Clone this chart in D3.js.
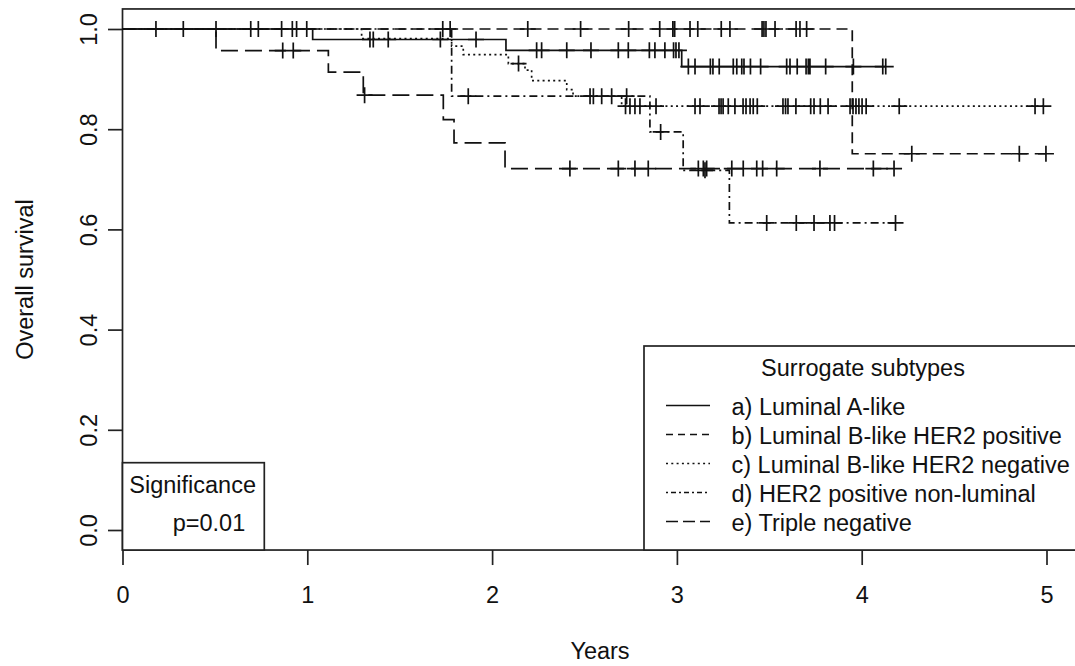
<!DOCTYPE html>
<html><head><meta charset="utf-8">
<script src="https://cdn.jsdelivr.net/npm/d3@7"></script>
<style>
body{margin:0;background:#fff}
svg{display:block}
text{font-family:"Liberation Sans",Arial,sans-serif;fill:#111}
</style>
</head><body>
<svg id="chart" width="1075" height="666"></svg>
<script>
// ---------- data ----------
const groupLabels = ["a) Luminal A-like","b) Luminal B-like HER2 positive","c) Luminal B-like HER2 negative","d) HER2 positive non-luminal","e) Triple negative"];
const xTicks = [0,1,2,3,4,5];
const yTicks = [0,0.2,0.4,0.6,0.8,1.0];
const xLabel = "Years";
const yLabel = "Overall survival";
const legendTitle = "Surrogate subtypes";
const sigTitle = "Significance";
const sigValue = "p=0.01";

// a) Luminal A-like
const aTime = [1.029, 2.075, 3.026];
const aSurv = [0.979, 0.9575, 0.925];
const aCensor = [0.181,0.329,0.506,0.694,0.735,0.861,0.919,0.942,0.997,1.339,1.357,1.438,1.72,1.913,2.241,2.268,2.404,2.535,2.683,2.737,2.851,2.881,2.935,2.982,2.995,3.011,3.062,3.098,3.181,3.195,3.229,3.305,3.324,3.351,3.363,3.398,3.453,3.594,3.612,3.651,3.699,3.711,3.720,3.805,3.955,4.114,4.130];
const aEnd = 4.13;

// b) Luminal B-like HER2 positive
const bTime = [3.949];
const bSurv = [0.751];
const bCensor = [1.733,2.193,2.479,2.739,2.907,2.978,2.988,3.071,3.113,3.240,3.287,3.461,3.471,3.482,3.531,3.645,3.666,3.702,4.271,4.853,4.997];
const bEnd = 4.997;

// c) Luminal B-like HER2 negative
const cTime = [1.294,1.781,1.844,2.088,2.178,2.214,2.404,2.438,2.701];
const cSurv = [0.981,0.966,0.949,0.931,0.918,0.897,0.879,0.866,0.846];
const cCensor = [2.143,2.530,2.548,2.593,2.647,2.722,2.746,2.773,2.800,2.887,3.098,3.125,3.228,3.239,3.250,3.278,3.314,3.358,3.374,3.396,3.413,3.435,3.574,3.588,3.601,3.644,3.724,3.742,3.776,3.818,3.937,3.953,3.969,3.985,4.002,4.024,4.203,4.938,4.983];
const cEnd = 4.983;

// d) HER2 positive non-luminal
const dTime = [1.781,2.854,3.034,3.284];
const dSurv = [0.866,0.7946,0.718,0.613];
const dCensor = [1.773,1.871,2.728,2.912,3.152,3.486,3.646,3.742,3.828,3.853,4.183];
const dEnd = 4.183;

// e) Triple negative
const eTime = [0.506,1.114,1.303,1.736,1.794,2.070];
const eSurv = [0.957,0.914,0.868,0.819,0.7726,0.7215];
const eCensor = [0.867,0.924,1.31,2.421,2.683,2.773,2.845,3.116,3.143,3.161,3.297,3.359,3.432,3.464,3.540,3.774,4.063,4.175];
const eEnd = 4.175;

const groups = [
  {time:aTime, surv:aSurv, censor:aCensor, end:aEnd},
  {time:bTime, surv:bSurv, censor:bCensor, end:bEnd},
  {time:cTime, surv:cSurv, censor:cCensor, end:cEnd},
  {time:dTime, surv:dSurv, censor:dCensor, end:dEnd},
  {time:eTime, surv:eSurv, censor:eCensor, end:eEnd}
];
const curveDash = [null, "11,6", "2,3.3", "2,4,8,4", "17,7"];
const legendDash = [null, "7,5", "2,3.3", "2,3,5,3", "12,5"];

// ---------- drawing ----------
const FS = 23.5;
const LW = 1.7;
const svg = d3.select("#chart");
const x = d3.scaleLinear().domain([0,5]).range([122.5,1046.5]);
const y = d3.scaleLinear().domain([0,1]).range([530,29]);
const plotRight = 1080;

// plot box
svg.append("rect")
  .attr("x", x(0)).attr("y", y(1.04))
  .attr("width", plotRight - x(0)).attr("height", y(-0.04) - y(1.04))
  .attr("fill","none").attr("stroke","#222").attr("stroke-width",LW);

// x axis
const gx = svg.append("g").attr("transform",`translate(0,${y(-0.04)})`)
  .call(d3.axisBottom(x).tickValues(xTicks).tickFormat(d3.format("d")).tickSize(15).tickPadding(21));
gx.select(".domain").remove();
gx.selectAll("line").attr("stroke","#222").attr("stroke-width",LW);
gx.selectAll("text").attr("font-size",FS).attr("fill","#111").style("font-family",'"Liberation Sans",Arial,sans-serif');

// y axis
const gy = svg.append("g").attr("transform",`translate(${x(0)},0)`)
  .call(d3.axisLeft(y).tickValues(yTicks).tickFormat(d3.format(".1f")).tickSize(14.5));
gy.select(".domain").remove();
gy.selectAll("line").attr("stroke","#222").attr("stroke-width",LW);
gy.selectAll("text")
  .attr("x",0).attr("dy",null).attr("text-anchor","middle")
  .attr("transform","translate(-25.5,0) rotate(-90)")
  .attr("font-size",FS).attr("fill","#111").style("font-family",'"Liberation Sans",Arial,sans-serif');

// axis titles
svg.append("text").attr("x",600).attr("y",659).attr("text-anchor","middle").attr("font-size",FS).text(xLabel);
svg.append("text").attr("transform",`translate(33,${(y(1.04)+y(-0.04))/2}) rotate(-90)`)
  .attr("text-anchor","middle").attr("font-size",FS).text(yLabel);

// curves
const line = d3.line().x(d=>x(d[0])).y(d=>y(d[1])).curve(d3.curveStepAfter);
function survAt(g,t){ let s=1; g.time.forEach((tt,i)=>{ if(tt<=t) s=g.surv[i]; }); return s; }
const plotG = svg.append("g");
groups.forEach((g,i)=>{
  const pts = [[0,1]].concat(g.time.map((t,k)=>[t,g.surv[k]]));
  pts.push([g.end, g.surv[g.surv.length-1]]);
  plotG.append("path").attr("d",line(pts)).attr("fill","none")
    .attr("stroke","#111").attr("stroke-width",LW)
    .attr("stroke-dasharray",curveDash[i]);
  const m = 8;
  plotG.append("path")
    .attr("d", g.censor.map(t=>{const cx=x(t), cy=y(survAt(g,t)); return `M${cx-m},${cy}H${cx+m}M${cx},${cy-m}V${cy+m}`;}).join(""))
    .attr("fill","none").attr("stroke","#111").attr("stroke-width",LW);
});

// legend box
const lgX = 644, lgY = 346;
svg.append("rect").attr("x",lgX).attr("y",lgY).attr("width",plotRight-lgX).attr("height",y(-0.04)-lgY)
  .attr("fill","#fff").attr("stroke","#222").attr("stroke-width",LW);
svg.append("text").attr("x",863).attr("y",375.5).attr("text-anchor","middle").attr("font-size",FS).text(legendTitle);
groupLabels.forEach((lab,i)=>{
  const by = 415 + i*29;
  svg.append("line").attr("x1",666).attr("x2",710).attr("y1",by-9.5).attr("y2",by-9.5)
    .attr("stroke","#111").attr("stroke-width",LW).attr("stroke-dasharray",legendDash[i]);
  svg.append("text").attr("x",731.5).attr("y",by).attr("font-size",FS).text(lab);
});

// significance box
svg.append("rect").attr("x",x(0)).attr("y",462.7).attr("width",264.3-x(0)).attr("height",y(-0.04)-462.7)
  .attr("fill","#fff").attr("stroke","#222").attr("stroke-width",LW);
svg.append("text").attr("x",129.3).attr("y",492.7).attr("font-size",FS).text(sigTitle);
svg.append("text").attr("x",172.7).attr("y",531).attr("font-size",FS).text(sigValue);
</script>
</body></html>
